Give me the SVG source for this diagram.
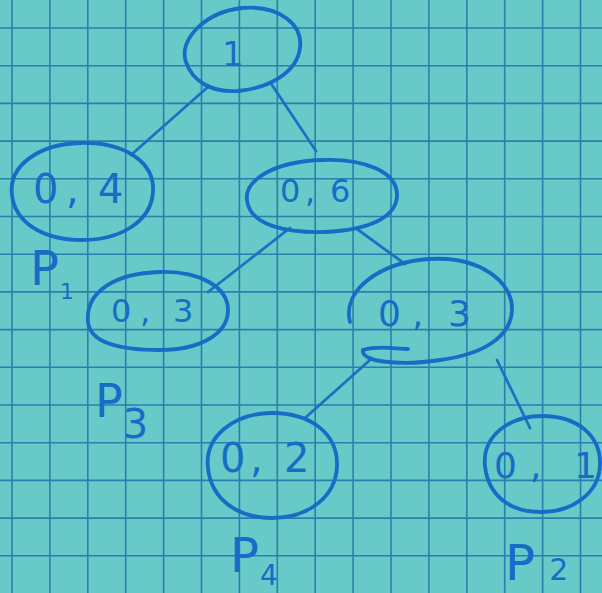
<svg xmlns="http://www.w3.org/2000/svg" width="602" height="593" viewBox="0 0 602 593">
<style>
.grid{stroke:#2a80ad;stroke-width:1.6;fill:none}
.ink{stroke:#176cc6;stroke-width:3.8;fill:none;stroke-linecap:round;stroke-linejoin:round}
.edge{stroke:#1c72c2;stroke-width:2.8;fill:none;stroke-linecap:round}
.t{fill:#176cc6;font-family:"DejaVu Sans","Liberation Sans",sans-serif}
</style>
<rect width="602" height="593" fill="#68c9c9"/>
<path class="grid" d="M12 0V593M49.9 0V593M87.8 0V593M125.7 0V593M163.6 0V593M201.5 0V593M239.4 0V593M277.3 0V593M315.2 0V593M353.1 0V593M391 0V593M428.9 0V593M466.8 0V593M504.7 0V593M542.6 0V593M580.5 0V593M0 28H602M0 65.7H602M0 103.4H602M0 141.1H602M0 178.8H602M0 216.5H602M0 254.2H602M0 291.9H602M0 329.6H602M0 367.3H602M0 405H602M0 442.7H602M0 480.4H602M0 518.1H602M0 555.8H602"/>
<g id="connectors">
<line class="edge" x1="209" y1="86" x2="131" y2="155"/>
<line class="edge" x1="272" y1="85" x2="316" y2="151"/>
<line class="edge" x1="290" y1="228" x2="208" y2="292"/>
<line class="edge" x1="357" y1="229" x2="405" y2="264"/>
<line class="edge" x1="370" y1="360" x2="305" y2="418"/>
<line class="edge" x1="497" y1="360" x2="530" y2="428"/>
</g>
<g id="n1">
<path class="ink" d="M186 62C178 40 205 12 242 8C280 5 303 25 300 48C297 72 270 88 238 91C210 93 192 80 186 62Z"/>
<text class="t" x="222" y="66" font-size="34">1</text>
</g>
<g id="n04">
<path class="ink" d="M12 195C8 165 40 144 80 143C125 142 155 162 153 192C151 222 120 240 82 240C42 240 15 222 12 195Z"/>
<text class="t" font-size="40" x="33 66 80 98" y="203">0, 4</text>
</g>
<g id="n06">
<path class="ink" d="M248 205C240 180 275 162 320 160C365 158 398 172 397 196C396 218 368 230 325 232C285 233 254 225 248 205Z"/>
<text class="t" font-size="32" x="280 305 314 330" y="202">0, 6</text>
</g>
<g id="n03a">
<path class="ink" d="M88 322C85 292 115 273 160 272C200 271 228 287 228 310C228 334 200 350 160 350C118 350 90 342 88 322Z"/>
<text class="t" font-size="32" x="111 140 150 173" y="322">0, 3</text>
</g>
<g id="n03b">
<path class="ink" d="M350 322C342 290 380 262 430 259C480 256 513 282 512 310C511 336 485 354 440 360C400 366 360 362 363 350"/>
<path class="ink" d="M363 350C380 345 395 349 408 349"/>
<text class="t" font-size="36" x="378 412 422 448" y="326">0, 3</text>
</g>
<g id="n02">
<path class="ink" d="M208 468C204 436 235 413 272 413C310 413 338 433 337 466C336 497 308 518 272 518C236 518 211 498 208 468Z"/>
<text class="t" font-size="40" x="220 250 262 284" y="472">0, 2</text>
</g>
<g id="n01">
<path class="ink" d="M485 466C482 437 508 416 542 416C578 416 601 436 600 465C599 493 573 512 541 512C508 512 488 494 485 466Z"/>
<text class="t" font-size="36" x="494 530 540 574" y="478">0, 1</text>
</g>
<g id="labels">
<text class="t" font-size="48" x="30" y="285">P<tspan font-size="22" dx="1" dy="14">1</tspan></text>
<text class="t" font-size="46" x="95" y="417">P<tspan font-size="40" dx="0" dy="21">3</tspan></text>
<text class="t" font-size="48" x="230" y="572">P<tspan font-size="28" dx="1" dy="13">4</tspan></text>
<text class="t" font-size="50" x="505" y="580">P<tspan font-size="30" dx="14">2</tspan></text>
</g>
</svg>
